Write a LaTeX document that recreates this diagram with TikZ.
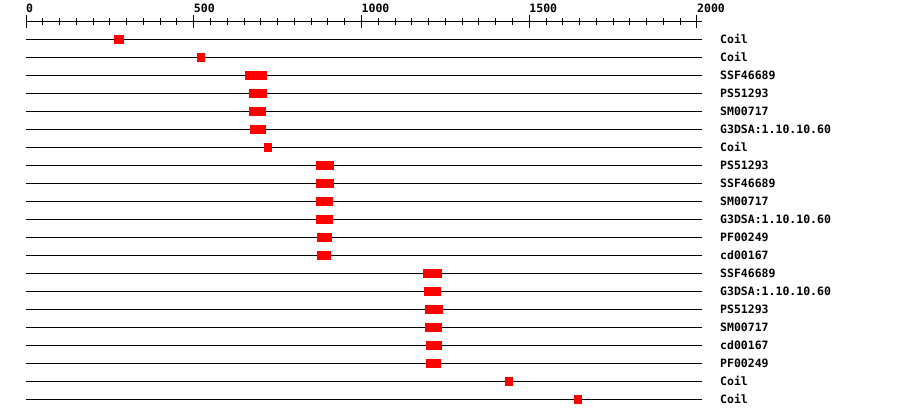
\documentclass[tikz,border=0pt]{standalone}
\usepackage{fontspec}
\setmonofont{DejaVu Sans Mono}
\usepackage{tikz}

\tikzset{
  rowline/.style={line width=1pt, black},
  hit/.style={fill=red},
  lab/.style={anchor=base west, inner sep=0pt, font=\ttfamily\bfseries\fontsize{11.5}{12}\selectfont},
}

\begin{document}
\begin{tikzpicture}[x=1pt, y=-1pt]
    \def\xo{26}      % position of 0
    \def\xs{0.3355}  % pixels per residue
    \def\xend{702}

    \useasboundingbox (0,0) rectangle (900,418);

    % --- Scale along the top ---
    \draw[rowline] (\xo,21) -- (\xend,21);
    \foreach \t in {0,50,...,2000}
        \draw[rowline] ({\xo+\t*\xs},18) -- ({\xo+\t*\xs},25);
    \foreach \t in {0,500,...,2000} {
        \draw[rowline] ({\xo+\t*\xs},15) -- ({\xo+\t*\xs},28);
        \node[lab] (tick\t) at ({\xo+\t*\xs},12) {\t};
    }

    % --- One row per feature: line, red hit, name ---
    \foreach \s/\e/\name [count=\i] in {
        263/292/Coil, 510/534/Coil, 653/718/SSF46689, 665/718/PS51293,
        665/715/SM00717, 668/715/G3DSA:1.10.10.60, 709/733/Coil,
        864/918/PS51293, 864/918/SSF46689, 864/915/SM00717,
        864/915/G3DSA:1.10.10.60, 867/912/PF00249, 867/909/cd00167,
        1183/1240/SSF46689, 1186/1237/G3DSA:1.10.10.60, 1189/1243/PS51293,
        1189/1240/SM00717, 1192/1240/cd00167, 1192/1237/PF00249,
        1428/1452/Coil, 1633/1657/Coil} {
        \pgfmathsetmacro{\y}{39+18*(\i-1)}
        \draw[rowline] (\xo,\y) -- (\xend,\y);
        \fill[hit] ({\xo+\s*\xs},\y-4.5) rectangle ({\xo+\e*\xs},\y+4.5);
        \node[lab] (name\i) at (720,\y+4) {\name};
    }
\end{tikzpicture}
\end{document}
